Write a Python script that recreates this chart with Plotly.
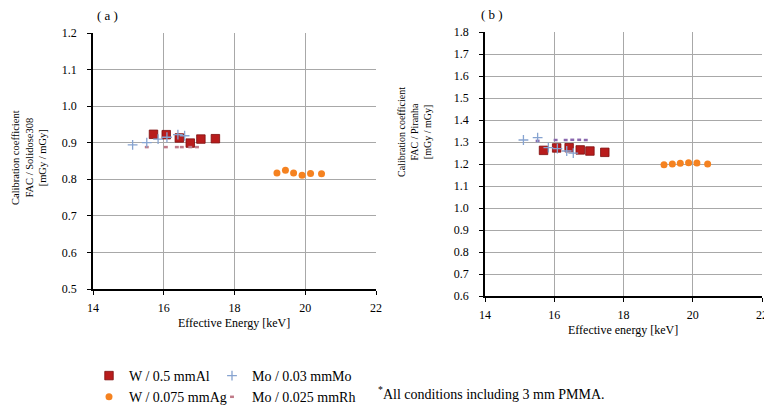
import plotly.graph_objects as go

# ---------------- data ----------------
# Panel (a): FAC / Solidose308
A_WAL_E = [15.71, 16.07, 16.44, 16.75, 17.05, 17.46]
A_WAL_Y = [0.923, 0.922, 0.913, 0.899, 0.910, 0.911]
A_WAG_E = [19.20, 19.44, 19.67, 19.91, 20.15, 20.46]
A_WAG_Y = [0.817, 0.825, 0.817, 0.811, 0.816, 0.815]
A_MOMO_E = [15.12, 15.52, 15.84, 16.09, 16.40, 16.59]
A_MOMO_Y = [0.894, 0.900, 0.910, 0.915, 0.922, 0.919]
A_MORH_E = [15.52, 16.06, 16.37, 16.51, 16.75, 16.94]
A_MORH_Y = [0.888, 0.888, 0.888, 0.888, 0.888, 0.888]

# Panel (b): FAC / Piranha
B_WAL_E = [15.69, 16.07, 16.43, 16.75, 17.03, 17.46]
B_WAL_Y = [1.262, 1.273, 1.274, 1.264, 1.259, 1.253]
B_WAG_E = [19.17, 19.41, 19.64, 19.88, 20.12, 20.43]
B_WAG_Y = [1.197, 1.200, 1.203, 1.206, 1.204, 1.200]
B_MOMO_E = [15.11, 15.52, 15.83, 16.09, 16.36, 16.55]
B_MOMO_Y = [1.309, 1.320, 1.274, 1.270, 1.259, 1.249]
B_MORH_E = [15.52, 16.04, 16.33, 16.52, 16.72, 16.91]
B_MORH_Y = [1.305, 1.309, 1.309, 1.310, 1.310, 1.309]

SERIES_NAMES = ["W / 0.5 mmAl", "W / 0.075 mmAg", "Mo / 0.03 mmMo", "Mo / 0.025 mmRh"]
X_TICKS = [14, 16, 18, 20, 22]
A_Y_TICKS = [0.5, 0.6, 0.7, 0.8, 0.9, 1.0, 1.1, 1.2]
B_Y_TICKS = [0.6, 0.7, 0.8, 0.9, 1.0, 1.1, 1.2, 1.3, 1.4, 1.5, 1.6, 1.7, 1.8]

W, H = 764, 410
SERIF = "Liberation Serif, Times New Roman, serif"

RED = "#b81c1c"
ORANGE = "#f58220"
BLUE = "#86a3d0"
PURPLE_A = "#c07a88"
PURPLE_B = "#8a68ae"

def px_x(p):
    return p / W

def px_y(p):
    return 1 - p / H

fig = go.Figure()

def add_panel(xa, ya, wal, wag, momo, morh, show, rh_color):
    fig.add_trace(go.Scatter(
        x=wal[0], y=wal[1], mode="markers", name=SERIES_NAMES[0],
        xaxis=xa, yaxis=ya, legend="legend", legendgroup="wal", showlegend=show,
        legendrank=1,
        marker=dict(symbol="square", size=8.5, color=RED,
                    line=dict(color="#7d0e0e", width=0.8))))
    fig.add_trace(go.Scatter(
        x=wag[0], y=wag[1], mode="markers", name=SERIES_NAMES[1],
        xaxis=xa, yaxis=ya, legend="legend", legendgroup="wag", showlegend=show,
        legendrank=2,
        marker=dict(symbol="circle", size=7, color=ORANGE,
                    line=dict(color=ORANGE, width=0))))
    fig.add_trace(go.Scatter(
        x=morh[0], y=morh[1], mode="markers", name=SERIES_NAMES[3],
        xaxis=xa, yaxis=ya, legend="legend2", legendgroup="morh", showlegend=show,
        legendrank=2,
        marker=dict(symbol="line-ew", size=2.8, color=rh_color,
                    line=dict(color=rh_color, width=2.5))))
    fig.add_trace(go.Scatter(
        x=momo[0], y=momo[1], mode="markers", name=SERIES_NAMES[2],
        xaxis=xa, yaxis=ya, legend="legend2", legendgroup="momo", showlegend=show,
        legendrank=1,
        marker=dict(symbol="cross-thin", size=7, color=BLUE,
                    line=dict(color=BLUE, width=1.3))))

add_panel("x", "y", (A_WAL_E, A_WAL_Y), (A_WAG_E, A_WAG_Y),
          (A_MOMO_E, A_MOMO_Y), (A_MORH_E, A_MORH_Y), True, PURPLE_A)
add_panel("x2", "y2", (B_WAL_E, B_WAL_Y), (B_WAG_E, B_WAG_Y),
          (B_MOMO_E, B_MOMO_Y), (B_MORH_E, B_MORH_Y), False, PURPLE_B)

axis_common = dict(
    showline=True, linecolor="black", linewidth=1.5,
    ticks="outside", ticklen=4, tickcolor="black", tickwidth=1,
    showgrid=True, gridcolor="#a8a8a8", gridwidth=1,
    zeroline=False, automargin=False, ticklabeloverflow="allow",
    tickfont=dict(family=SERIF, size=12, color="black"),
)

fig.update_layout(
    width=W, height=H,
    margin=dict(l=0, r=0, t=0, b=0, autoexpand=False),
    paper_bgcolor="white", plot_bgcolor="white",
    font=dict(family=SERIF, color="black"),
    xaxis=dict(domain=[px_x(93), px_x(376)], range=[14, 22], tickvals=X_TICKS,
               anchor="y", ticklabelstandoff=3, **axis_common),
    yaxis=dict(domain=[px_y(289), px_y(33)], range=[0.5, 1.2], tickvals=A_Y_TICKS,
               tickformat=".1f", anchor="x", ticklabelstandoff=8, **axis_common),
    xaxis2=dict(domain=[px_x(485), px_x(762)], range=[14, 22], tickvals=X_TICKS,
                anchor="y2", ticklabelstandoff=3, **axis_common),
    yaxis2=dict(domain=[px_y(296), px_y(32)], range=[0.6, 1.8], tickvals=B_Y_TICKS,
                tickformat=".1f", anchor="x2", ticklabelstandoff=8, **axis_common),
    legend=dict(x=px_x(89), y=px_y(360), xanchor="left", yanchor="top",
                orientation="v", bgcolor="rgba(0,0,0,0)", tracegroupgap=0,
                font=dict(family=SERIF, size=14, color="black"), itemwidth=30),
    legend2=dict(x=px_x(212), y=px_y(360), xanchor="left", yanchor="top",
                 orientation="v", bgcolor="rgba(0,0,0,0)", tracegroupgap=0,
                 font=dict(family=SERIF, size=14, color="black"), itemwidth=30),
)

def note(text, x, y, size, angle=0, xanchor="center"):
    return dict(text=text, x=px_x(x), y=px_y(y), xref="paper", yref="paper",
                xanchor=xanchor, yanchor="middle", textangle=angle,
                showarrow=False, font=dict(family=SERIF, size=size, color="black"))

ann = [
    note("( a )", 107, 15, 13),
    note("( b )", 492, 14, 13),
    note("Calibration coefficient<br>FAC / Solidose308<br>[mGy / mGy]", 29, 158, 10.5, -90),
    note("Calibration coefficient<br>FAC / Piranha<br>[mGy / mGy]", 414, 132, 10, -90),
    note("Effective Energy [keV]", 234, 323, 12),
    note("Effective energy [keV]", 623, 330, 12),
    note("<sup>*</sup>All conditions including 3 mm PMMA.", 376, 393, 14, xanchor="left"),
]
fig.update_layout(annotations=ann)

fig.write_html("out.html")
